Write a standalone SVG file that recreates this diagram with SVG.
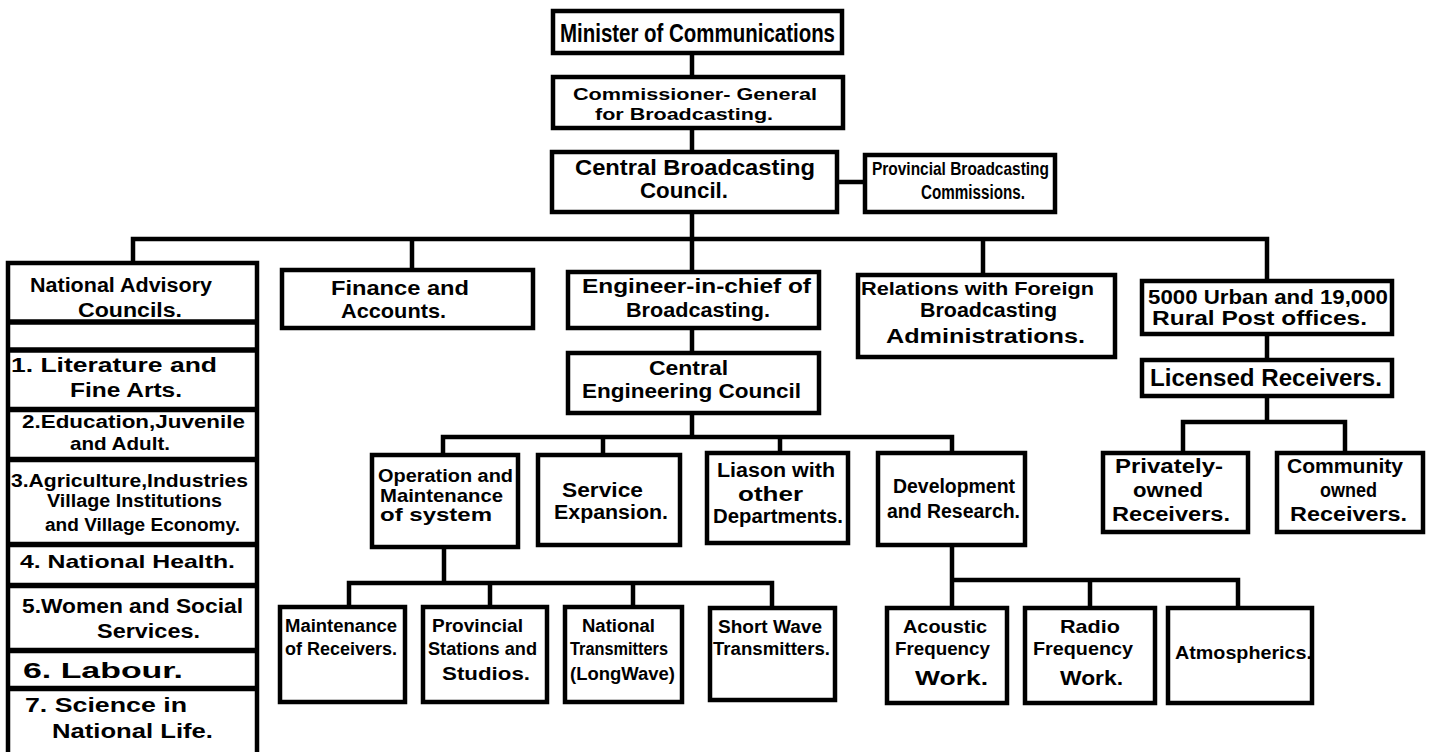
<svg xmlns="http://www.w3.org/2000/svg" width="1433" height="752" viewBox="0 0 1433 752">
<style>
.box{fill:#fff;stroke:#000;stroke-width:4.5}
.sep{stroke:#000;stroke-width:5.5;fill:none}
.c{stroke:#000;stroke-width:4.5;fill:none;stroke-linecap:square}
text{font-family:"Liberation Sans",Arial,sans-serif;font-weight:bold;fill:#000}
</style>
<rect width="1433" height="752" fill="#fff"/>
<g id="connectors">
<path class="c" d="M692 53V77M692 128V152M837 182H865M692 212V239M133 239H1267M133 239V263M412 239V270M692 239V272M983 239V275M1267 239V281"/>
<path class="c" d="M692 328V353M692 413V437M443 437H952M443 437V455M603 437V455M780 437V453M952 437V453"/>
<path class="c" d="M444 547V583M349 583H772M349 583V607M490 583V607M633 583V607M772 583V608"/>
<path class="c" d="M952 545V580H1238M952 580V608M1090 580V608M1238 580V608"/>
<path class="c" d="M1267 334V360M1267 396V422M1183 422H1345M1183 422V453M1345 422V453"/>
</g>
<g id="minister"><rect class="box" x="553" y="11" width="289" height="42"/>
<text x="560" y="42" font-size="26" textLength="275" lengthAdjust="spacingAndGlyphs">Minister of Communications</text></g>
<g id="commissioner"><rect class="box" x="553" y="77" width="290" height="51"/>
<text x="573" y="100" font-size="17" textLength="244" lengthAdjust="spacingAndGlyphs">Commissioner- General</text>
<text x="595" y="120" font-size="17" textLength="178" lengthAdjust="spacingAndGlyphs">for Broadcasting.</text></g>
<g id="central-broadcasting-council"><rect class="box" x="552" y="152" width="285" height="60"/>
<text x="575" y="175" font-size="22" textLength="240" lengthAdjust="spacingAndGlyphs">Central Broadcasting</text>
<text x="640" y="198" font-size="22" textLength="88" lengthAdjust="spacingAndGlyphs">Council.</text></g>
<g id="provincial-commissions"><rect class="box" x="865" y="155" width="190" height="57"/>
<text x="872" y="175" font-size="19" textLength="177" lengthAdjust="spacingAndGlyphs">Provincial Broadcasting</text>
<text x="921" y="199" font-size="20" textLength="104" lengthAdjust="spacingAndGlyphs">Commissions.</text></g>
<g id="national-advisory-councils">
<rect class="box" x="8" y="263" width="249" height="500"/>
<path class="sep" d="M8 322H257M8 350H257M8 409.5H257M8 459.5H257M8 544.5H257M8 585.5H257M8 650.5H257M8 688.5H257"/>
<text x="30" y="292" font-size="20" textLength="182" lengthAdjust="spacingAndGlyphs">National Advisory</text>
<text x="78" y="317" font-size="20" textLength="104" lengthAdjust="spacingAndGlyphs">Councils.</text>
<text x="11" y="372" font-size="20" textLength="206" lengthAdjust="spacingAndGlyphs">1. Literature and</text>
<text x="70" y="397" font-size="20" textLength="112" lengthAdjust="spacingAndGlyphs">Fine Arts.</text>
<text x="22" y="428" font-size="18" textLength="223" lengthAdjust="spacingAndGlyphs">2.Education,Juvenile</text>
<text x="70" y="450" font-size="19" textLength="100" lengthAdjust="spacingAndGlyphs">and Adult.</text>
<text x="11" y="487" font-size="19" textLength="237" lengthAdjust="spacingAndGlyphs">3.Agriculture,Industries</text>
<text x="47" y="507" font-size="18" textLength="175" lengthAdjust="spacingAndGlyphs">Village Institutions</text>
<text x="45" y="531" font-size="18" textLength="195" lengthAdjust="spacingAndGlyphs">and Village Economy.</text>
<text x="20" y="568" font-size="19" textLength="215" lengthAdjust="spacingAndGlyphs">4. National  Health.</text>
<text x="22" y="613" font-size="20" textLength="221" lengthAdjust="spacingAndGlyphs">5.Women and Social</text>
<text x="97" y="638" font-size="20" textLength="103" lengthAdjust="spacingAndGlyphs">Services.</text>
<text x="23" y="678" font-size="22" textLength="160" lengthAdjust="spacingAndGlyphs">6.   Labour.</text>
<text x="25" y="712" font-size="21" textLength="162" lengthAdjust="spacingAndGlyphs">7. Science in</text>
<text x="52" y="738" font-size="21" textLength="161" lengthAdjust="spacingAndGlyphs">National Life.</text>
</g>
<g id="finance"><rect class="box" x="282" y="270" width="251" height="58"/>
<text x="331" y="295" font-size="21" textLength="138" lengthAdjust="spacingAndGlyphs">Finance and</text>
<text x="341" y="318" font-size="21" textLength="105" lengthAdjust="spacingAndGlyphs">Accounts.</text></g>
<g id="engineer-in-chief"><rect class="box" x="568" y="272" width="251" height="56"/>
<text x="582" y="293" font-size="20" textLength="229" lengthAdjust="spacingAndGlyphs">Engineer-in-chief of</text>
<text x="626" y="317" font-size="20" textLength="144" lengthAdjust="spacingAndGlyphs">Broadcasting.</text></g>
<g id="relations"><rect class="box" x="858" y="275" width="257" height="82"/>
<text x="861" y="295" font-size="18" textLength="233" lengthAdjust="spacingAndGlyphs">Relations with Foreign</text>
<text x="920" y="317" font-size="20" textLength="137" lengthAdjust="spacingAndGlyphs">Broadcasting</text>
<text x="886" y="343" font-size="20" textLength="199" lengthAdjust="spacingAndGlyphs">Administrations.</text></g>
<g id="post-offices"><rect class="box" x="1142" y="281" width="250" height="53"/>
<text x="1148" y="304" font-size="21" textLength="240" lengthAdjust="spacingAndGlyphs">5000 Urban and 19,000</text>
<text x="1152" y="325" font-size="21" textLength="215" lengthAdjust="spacingAndGlyphs">Rural Post offices.</text></g>
<g id="central-engineering-council"><rect class="box" x="568" y="353" width="251" height="60"/>
<text x="649" y="375" font-size="20" textLength="79" lengthAdjust="spacingAndGlyphs">Central</text>
<text x="582" y="398" font-size="20" textLength="219" lengthAdjust="spacingAndGlyphs">Engineering Council</text></g>
<g id="licensed-receivers"><rect class="box" x="1142" y="360" width="250" height="36"/>
<text x="1150" y="386" font-size="24" textLength="232" lengthAdjust="spacingAndGlyphs">Licensed Receivers.</text></g>
<g id="operation"><rect class="box" x="372" y="455" width="146" height="92"/>
<text x="378" y="482" font-size="18" textLength="135" lengthAdjust="spacingAndGlyphs">Operation and</text>
<text x="380" y="502" font-size="19" textLength="123" lengthAdjust="spacingAndGlyphs">Maintenance</text>
<text x="380" y="521" font-size="19" textLength="112" lengthAdjust="spacingAndGlyphs">of system</text></g>
<g id="service-expansion"><rect class="box" x="538" y="455" width="142" height="90"/>
<text x="562" y="497" font-size="20" textLength="81" lengthAdjust="spacingAndGlyphs">Service</text>
<text x="554" y="519" font-size="20" textLength="114" lengthAdjust="spacingAndGlyphs">Expansion.</text></g>
<g id="liason"><rect class="box" x="707" y="453" width="141" height="90"/>
<text x="717" y="477" font-size="20" textLength="118" lengthAdjust="spacingAndGlyphs">Liason with</text>
<text x="738" y="501" font-size="20" textLength="65" lengthAdjust="spacingAndGlyphs">other</text>
<text x="713" y="523" font-size="20" textLength="130" lengthAdjust="spacingAndGlyphs">Departments.</text></g>
<g id="development"><rect class="box" x="878" y="453" width="147" height="92"/>
<text x="893" y="493" font-size="20" textLength="122" lengthAdjust="spacingAndGlyphs">Development</text>
<text x="887" y="518" font-size="20" textLength="133" lengthAdjust="spacingAndGlyphs">and Research.</text></g>
<g id="privately-owned"><rect class="box" x="1103" y="453" width="145" height="79"/>
<text x="1115" y="473" font-size="20" textLength="108" lengthAdjust="spacingAndGlyphs">Privately-</text>
<text x="1133" y="497" font-size="20" textLength="70" lengthAdjust="spacingAndGlyphs">owned</text>
<text x="1112" y="521" font-size="20" textLength="118" lengthAdjust="spacingAndGlyphs">Receivers.</text></g>
<g id="community-owned"><rect class="box" x="1277" y="453" width="146" height="79"/>
<text x="1287" y="473" font-size="20" textLength="116" lengthAdjust="spacingAndGlyphs">Community</text>
<text x="1320" y="497" font-size="20" textLength="57" lengthAdjust="spacingAndGlyphs">owned</text>
<text x="1290" y="521" font-size="20" textLength="117" lengthAdjust="spacingAndGlyphs">Receivers.</text></g>
<g id="maintenance-receivers"><rect class="box" x="280" y="607" width="125" height="95"/>
<text x="285" y="632" font-size="18" textLength="112" lengthAdjust="spacingAndGlyphs">Maintenance</text>
<text x="285" y="655" font-size="18" textLength="112" lengthAdjust="spacingAndGlyphs">of Receivers.</text></g>
<g id="provincial-stations"><rect class="box" x="423" y="607" width="124" height="95"/>
<text x="432" y="632" font-size="19" textLength="91" lengthAdjust="spacingAndGlyphs">Provincial</text>
<text x="428" y="655" font-size="19" textLength="109" lengthAdjust="spacingAndGlyphs">Stations and</text>
<text x="442" y="680" font-size="19" textLength="88" lengthAdjust="spacingAndGlyphs">Studios.</text></g>
<g id="national-transmitters"><rect class="box" x="565" y="607" width="117" height="95"/>
<text x="582" y="632" font-size="18" textLength="73" lengthAdjust="spacingAndGlyphs">National</text>
<text x="570" y="655" font-size="18" textLength="98" lengthAdjust="spacingAndGlyphs">Transmitters</text>
<text x="570" y="680" font-size="18" textLength="105" lengthAdjust="spacingAndGlyphs">(LongWave)</text></g>
<g id="short-wave"><rect class="box" x="710" y="608" width="125" height="92"/>
<text x="718" y="633" font-size="18" textLength="104" lengthAdjust="spacingAndGlyphs">Short Wave</text>
<text x="713" y="655" font-size="18" textLength="117" lengthAdjust="spacingAndGlyphs">Transmitters.</text></g>
<g id="acoustic"><rect class="box" x="887" y="608" width="120" height="95"/>
<text x="903" y="633" font-size="19" textLength="84" lengthAdjust="spacingAndGlyphs">Acoustic</text>
<text x="895" y="655" font-size="19" textLength="95" lengthAdjust="spacingAndGlyphs">Frequency</text>
<text x="915" y="685" font-size="20" textLength="73" lengthAdjust="spacingAndGlyphs">Work.</text></g>
<g id="radio-frequency"><rect class="box" x="1025" y="608" width="130" height="95"/>
<text x="1060" y="633" font-size="19" textLength="60" lengthAdjust="spacingAndGlyphs">Radio</text>
<text x="1033" y="655" font-size="19" textLength="100" lengthAdjust="spacingAndGlyphs">Frequency</text>
<text x="1060" y="685" font-size="20" textLength="63" lengthAdjust="spacingAndGlyphs">Work.</text></g>
<g id="atmospherics"><rect class="box" x="1168" y="608" width="144" height="95"/>
<text x="1175" y="659" font-size="19" textLength="137" lengthAdjust="spacingAndGlyphs">Atmospherics.</text></g>
</svg>
